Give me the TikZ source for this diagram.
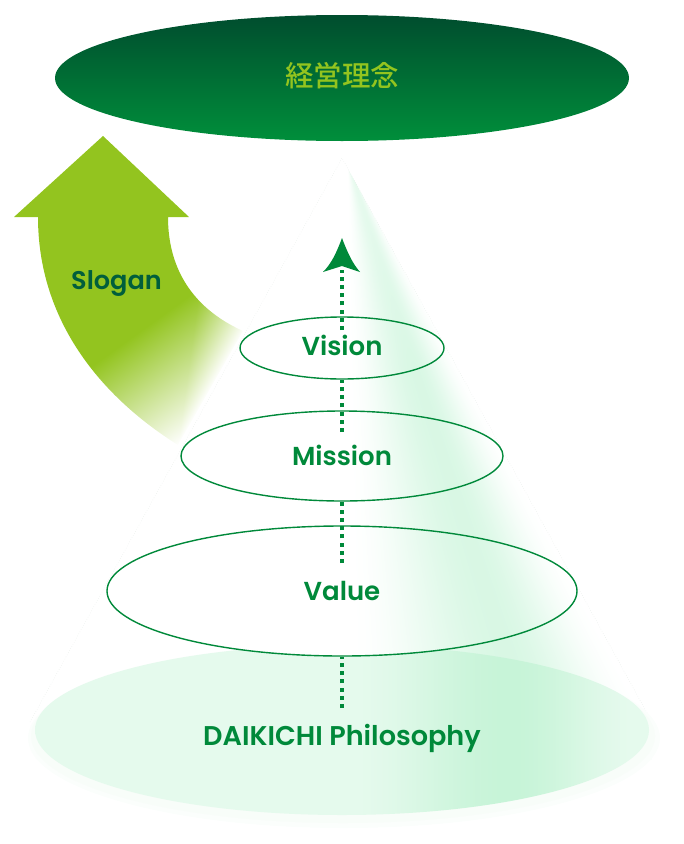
\documentclass[tikz,border=0pt]{standalone}
\usepackage{fontspec}
\setmainfont{Poppins SemiBold}
\newfontfamily\cjkfont{Noto Sans CJK JP Medium}
\usetikzlibrary{shapes.geometric,arrows.meta}
\definecolor{leaf}{HTML}{93C41F}
\definecolor{kelly}{HTML}{00893A}
\definecolor{pine}{HTML}{005E3C}
\definecolor{topdark}{HTML}{004D2E}
\definecolor{topbright}{HTML}{008F3B}
\definecolor{halo}{HTML}{FBFEFC}
\definecolor{halotwo}{HTML}{F8FDF9}
\definecolor{hairgrey}{HTML}{DDE6E0}
\pgfdeclarefunctionalshading{coneshade}{\pgfpoint{0bp}{0bp}}{\pgfpoint{684bp}{844bp}}{}{
844 exch sub dup 160 sub .54 mul 1 add dup 1 lt {pop 1} if
3 -1 roll 347 sub exch div
dup .6 lt {.6 div} {1 exch sub .4 div} ifelse
dup 0 lt {pop 0} if
dup dup mul exch 2 mul 3 exch sub mul
exch 170 sub 200 div dup 1 gt {pop 1} if dup 0 lt {pop 0} if .4 mul .6 add mul .15 mul
dup 1 exch sub exch dup .2 mul 1 exch sub exch .7 mul 1 exch sub
}
\pgfdeclarefunctionalshading{baseshade}{\pgfpoint{0bp}{0bp}}{\pgfpoint{684bp}{844bp}}{}{
pop
dup 510 lt {345 sub 165 div} {640 exch sub 130 div} ifelse
dup 0 lt {pop 0} if
dup dup mul exch 2 mul 3 exch sub mul
.12 mul .10 add
dup 1 exch sub exch dup .2 mul 1 exch sub exch .7 mul 1 exch sub
}
\pgfdeclarefunctionalshading{arrowshade}{\pgfpoint{0bp}{0bp}}{\pgfpoint{684bp}{844bp}}{}{
844 exch sub 2 copy
.81 mul exch .584 mul add 350 sub 115 div 1 exch sub
3 1 roll
.5 mul exch .865 mul add 376.7 exch sub 60 div
2 copy gt {exch} if pop
dup 0 lt {pop 0} if dup 1 gt {pop 1} if
dup .424 mul 1 exch sub exch
dup .231 mul 1 exch sub exch
.878 mul 1 exch sub
}
\newcommand{\fullshade}[1]{\pgftext[at=\pgfpointxy{342}{422}]{\pgfuseshading{#1}}}
\tikzset{
  x=1bp,y=-1bp,
  ring/.style={draw=kelly,line width=1.4bp,ellipse,inner sep=0pt,fill=none},
  stem/.style={draw=kelly,line width=4.2bp,dash pattern=on 4bp off 4.2bp},
  lab/.style={text=kelly,font=\fontsize{26bp}{30bp}\selectfont,anchor=base,inner sep=0pt},
  hair/.style={draw=hairgrey,line width=.4bp,dotted}
}
\begin{document}
\begin{tikzpicture}
\useasboundingbox (0,0) rectangle (684,844);
% top ellipse
\shade[top color=topdark,bottom color=topbright] (342,78) ellipse [x radius=287,y radius=63];
\node[text=leaf,font=\cjkfont\fontsize{28.5bp}{32bp}\selectfont,anchor=base,inner sep=0pt] (rinen) at (342,86) {経営理念};
% slogan arrow
\begin{scope}
\clip (103,136) -- (189,217) -- (168,217)
  .. controls (168,268) and (192,308) .. (243,331)
  -- (178,445)
  .. controls (100,396) and (38,320) .. (38,217)
  -- (14,217) -- cycle;
\fullshade{arrowshade}
\end{scope}
\node[text=pine,font=\fontsize{25.6bp}{30bp}\selectfont,anchor=base,inner sep=0pt] (slogan) at (116.5,289) {Slogan};
% cone
\begin{scope}
\clip (342,158) -- (652,722) -- (652,760) -- (30,760) -- (30,722) -- cycle;
\fullshade{coneshade}
\end{scope}
\draw[hair] (30,722) -- (342,158) -- (652,722);
% base
\fill[halo] (344,738) ellipse [x radius=316,y radius=90];
\fill[halotwo] (343,736) ellipse [x radius=312,y radius=87];
\begin{scope}
\clip (342,730) ellipse [x radius=307,y radius=85];
\fullshade{baseshade}
\end{scope}
% ellipse interiors
\begin{scope}
\clip (342,591) ellipse [x radius=235,y radius=65];
\fill[white] (100,520) rectangle (590,660);
\fullshade{coneshade}
\end{scope}
% ellipses
\node[ring,minimum width=470bp,minimum height=130bp] (value) at (342,591) {};
\node[ring,minimum width=322bp,minimum height=90bp] (mission) at (342,456) {};
\node[ring,minimum width=204bp,minimum height=62bp] (vision) at (342,348) {};
% connectors
\coordinate (philtop) at (342,708);
\coordinate (valtop) at (342,563);
\coordinate (mistop) at (342,432);
\coordinate (vistop) at (342,330);
\coordinate (tail) at (342,270);
\coordinate (tip) at (342,238);
\draw[stem] (philtop) -- (value.south);
\draw[stem] (valtop) -- (mission.south);
\draw[stem] (mistop) -- (vision.south);
\draw[stem] (vistop) -- (tail);
\fill[kelly] (tip) .. controls (348,254) and (353,264) .. (360,272) -- (342,266) -- (323,272) .. controls (331,264) and (336,254) .. (tip) -- cycle;
% labels
\node[lab] (tvision) at (342,355) {Vision};
\node[lab] (tmission) at (342,465) {Mission};
\node[lab] (tvalue) at (342,600) {Value};
\node[lab,font=\fontsize{27.1bp}{30bp}\selectfont] (tphil) at (342,745) {DAIKICHI Philosophy};
\end{tikzpicture}
\end{document}
